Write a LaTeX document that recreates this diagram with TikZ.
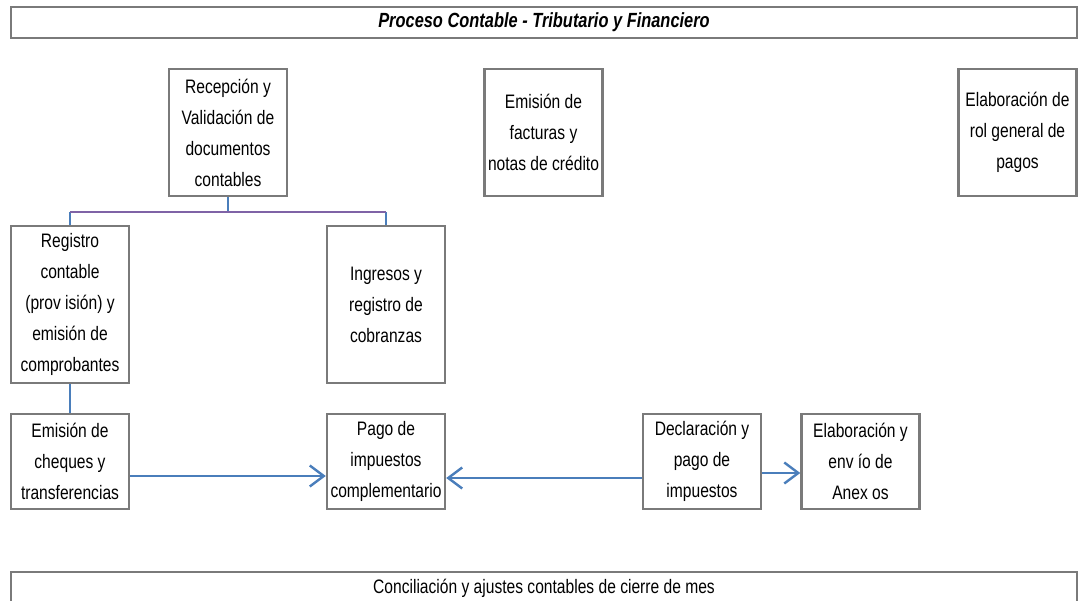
\documentclass[tikz,border=0pt]{standalone}
\usepackage{fontspec}
\setmainfont[FakeStretch=0.8]{Liberation Sans}
\usetikzlibrary{arrows.meta,calc}
\definecolor{boxgray}{HTML}{7A7A7A}
\definecolor{linkblue}{HTML}{4A7EBB}
\definecolor{linkpurple}{HTML}{7F63A6}
\begin{document}
\begin{tikzpicture}[x=1pt,y=-1pt,
  box/.style={draw=boxgray, line width=2.4pt, fill=white, align=center,
    inner sep=0pt, minimum width=118, font=\fontsize{19.5}{31}\selectfont},
  band/.style={draw=boxgray, line width=2.4pt, fill=white, inner sep=0pt,
    minimum width=1066, font=\fontsize{19.5}{31}\selectfont},
  link/.style={draw=linkblue, line width=2.4pt},
  bus/.style={draw=linkpurple, line width=2.4pt},
  flow/.style={link, -{Straight Barb[length=14pt,width=21pt]}}]
\clip (0,0) rectangle (1080,601);
\fill[white] (0,0) rectangle (1080,601);

% header and footer bands
\node[band, minimum height=31] (titulo) at (544,22.5)
  {\fontsize{20.5}{31}\selectfont\bfseries\itshape Proceso Contable - Tributario y Financiero};
\node[band, minimum height=32] (cierre) at (544,588)
  {Conciliación y ajustes contables de cierre de mes};

% top row
\node[box, minimum height=127] (rec) at (228,132.5)
  {Recepción y\\Validación de\\documentos\\contables};
\node[box, minimum height=127] (fact) at (543.5,132.5)
  {Emisión de\\facturas y\\notas de crédito};
\node[box, minimum height=127] (rol) at (1017.5,132.5)
  {Elaboración de\\rol general de\\pagos};

% middle row
\node[box, minimum height=157] (reg) at (70,304.5)
  {Registro\\contable\\(prov isión) y\\emisión de\\comprobantes};
\node[box, minimum height=157] (ing) at (386,304.5)
  {Ingresos y\\registro de\\cobranzas};

% bottom row
\node[box, minimum height=95] (cheq) at (70,461.5)
  {Emisión de\\cheques y\\transferencias};
\node[box, minimum height=95] (pago) at (386,461.5)
  {Pago de\\impuestos\\complementario};
\node[box, minimum height=95] (decl) at (702,461.5)
  {Declaración y\\pago de\\impuestos};
\node[box, minimum height=95] (elab) at (860.5,461.5)
  {Elaboración y\\env ío de\\Anex os};

% tree under the reception box
\coordinate (hub) at ($(rec.south)+(0,15)$);
\draw[link] (rec.south) -- (hub);
\draw[link] (hub -| reg.north) -- (reg.north);
\draw[link] (hub -| ing.north) -- (ing.north);
\draw[bus] (hub -| reg.north) -- (hub -| ing.north);
\draw[link] (reg.south) -- (cheq.north);

% flows in the bottom row
\coordinate (a1) at ($(cheq.east)+(0,14.5)$);
\coordinate (a2) at ($(decl.west)+(0,16.5)$);
\coordinate (a3) at ($(decl.east)+(0,11.5)$);
\draw[flow] (a1) -- (a1 -| pago.west);
\draw[flow] (a2) -- (a2 -| pago.east);
\draw[flow] (a3) -- (a3 -| elab.west);
\end{tikzpicture}
\end{document}
